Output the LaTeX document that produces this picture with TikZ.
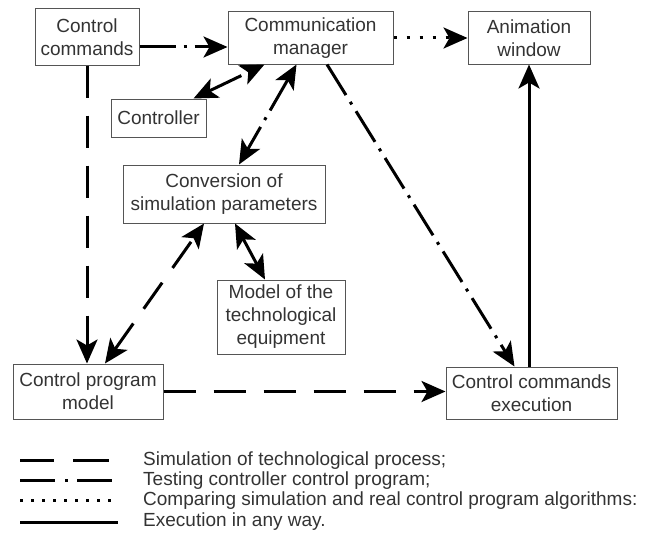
\documentclass[tikz,border=0pt]{standalone}
\usepackage{fontspec}
\setmainfont{Liberation Sans}
\usetikzlibrary{arrows.meta,calc}
\definecolor{txt}{HTML}{333333}
\definecolor{bord}{HTML}{555555}
\begin{document}
\begin{tikzpicture}[x=1pt,y=-1pt,
  box/.style={draw=bord,line width=1pt,align=center,inner sep=0pt,text=txt,font=\fontsize{19}{23}\selectfont},
  ln/.style={line width=3pt,black},
  tip/.style={-{Stealth[length=24pt,width=21pt,inset=6pt]}},
  tips/.style={{Stealth[length=24pt,width=21pt,inset=6pt]}-{Stealth[length=24pt,width=21pt,inset=6pt]}},
  dd/.style={dash pattern=on 36pt off 8pt on 3pt off 8pt},
  ds/.style={dash pattern=on 32pt off 18pt},
  dt/.style={dash pattern=on 3pt off 10pt},
  leg/.style={anchor=west,text=txt,inner sep=0pt,font=\fontsize{19}{20}\selectfont}]
\useasboundingbox (0,0) rectangle (655,535);
% boxes
\node[box,minimum width=104pt,minimum height=56pt] (cc) at (87,37) {Control\\commands};
\node[box,minimum width=165pt,minimum height=52pt] (cm) at (310.5,38) {Communication\\manager};
\node[box,minimum width=122pt,minimum height=52pt] (aw) at (529,38) {Animation\\window};
\node[box,minimum width=95pt,minimum height=38pt] (ctrl) at (158.5,118) {Controller};
\node[box,minimum width=202pt,minimum height=58pt] (conv) at (224,194) {Conversion of\\simulation parameters};
\node[box,minimum width=128pt,minimum height=74pt] (model) at (281,317) {Model of the\\technological\\equipment};
\node[box,minimum width=150pt,minimum height=55pt] (cpm) at (88,391.5) {Control program\\model};
\node[box,minimum width=171pt,minimum height=52pt] (cce) at (531.5,393) {Control commands\\execution};
% connectors
\draw[ln,dd,tip] ([yshift=-10pt]cc.east) -- ([yshift=-10pt]cc.east -| cm.west);
\draw[ln,dt,tip] (cm.east) -- (aw.west);
\draw[ln,tip] (aw.south |- cce.north) -- (aw.south);
\draw[ln,dd,tip] ([xshift=16.5pt]cm.south) -- ([xshift=69pt]cce.north west);
\draw[ln,dd,tips] ([xshift=-13pt]ctrl.north east) -- ([xshift=37pt]cm.south west);
\draw[ln,dd,tips] ([xshift=69pt]cm.south west) -- ([xshift=15pt]conv.north);
\draw[ln,ds,tip] (cc.south) -- (cc.south |- cpm.north);
\draw[ln,ds,tips] ([xshift=17pt]cpm.north) -- ([xshift=-20pt]conv.south);
\draw[ln,tips] ([xshift=11pt]conv.south) -- ([xshift=-16pt]model.north);
\draw[ln,ds,tip] (cpm.east) -- (cpm.east -| cce.west);
% legend
\node[leg] (l1) at (143,461) {Simulation of technological process;};
\node[leg] (l2) at (143,481) {Testing controller control program;};
\node[leg] (l3) at (143,501) {Comparing simulation and real control program algorithms:};
\node[leg] (l4) at (143,522) {Execution in any way.};
\draw[ln,dash pattern=on 34pt off 19pt on 36pt] (20,460) -- (109,460);
\draw[ln,dash pattern=on 35pt off 10pt on 3pt off 9pt on 35pt] (20,480) -- (112,480);
\draw[ln,dash pattern=on 3pt off 8pt] (20,500) -- (112,500);
\draw[ln] (20,522) -- (118,522);
\end{tikzpicture}
\end{document}
